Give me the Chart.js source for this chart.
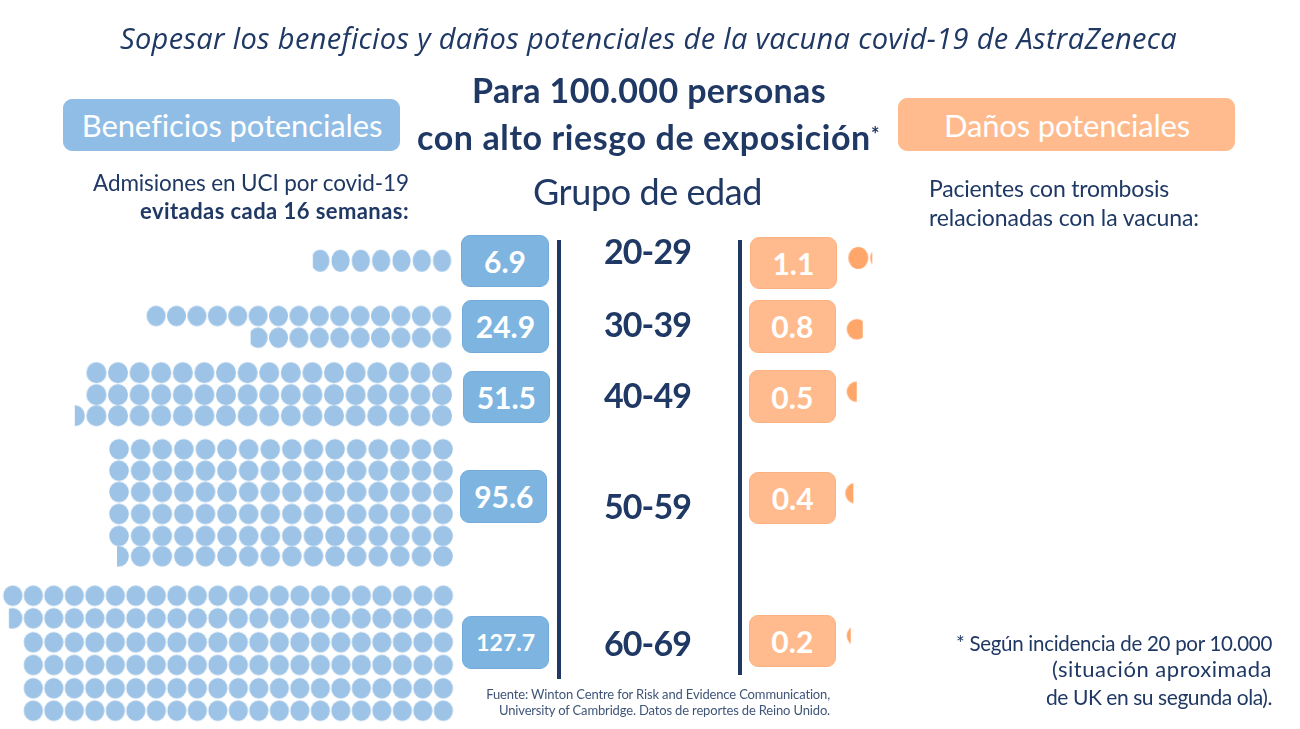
<!DOCTYPE html>
<html lang="es">
<head>
<meta charset="utf-8">
<title>Sopesar los beneficios y daños potenciales</title>
<script src="https://cdn.jsdelivr.net/npm/chart.js@4"></script>
<style>
    html, body { margin: 0; padding: 0; background: #ffffff; overflow: hidden; }
    #stage { position: relative; width: 1300px; height: 729px; }
    #dots { position: absolute; left: 0; top: 0; }
    .label { position: absolute; white-space: nowrap; color: #1f3864; font-family: Lato, sans-serif; line-height: 1; }
    .box { position: absolute; box-sizing: border-box; border-radius: 9px; color: #ffffff; font-family: Lato, sans-serif;
           font-weight: 700; display: flex; align-items: center; justify-content: center; }
    .rule { position: absolute; width: 4px; background: #203864; }
</style>
</head>
<body>
<div id="stage"><canvas id="dots" width="1300" height="729"></canvas></div>
<script>
// Values
const ageGroups = ["20-29", "30-39", "40-49", "50-59", "60-69"];
const benefitValues = [6.9, 24.9, 51.5, 95.6, 127.7];
const harmValues = [1.1, 0.8, 0.5, 0.4, 0.2];

// How the benefit dots of each group are split in rows, top row first
const benefitRows = [
    [6.9],
    [15, 9.9],
    [17, 17, 17.5],
    [16, 16, 16, 16, 16, 15.6],
    [22, 21.7, 21, 21, 21, 21],
];

// Page layout of the dots, in page pixels
const benefitLayout = [
    { right: 442, pitch: 20.3, w: 18.4, h: 22, rowY: [260.7] },
    { right: 441.7, pitch: 20.4, w: 19, h: 20.4, rowY: [316, 337.7] },
    { right: 442, pitch: 21.6, w: 20, h: 21, rowY: [372.7, 394.7, 415.7] },
    { right: 443, pitch: 21.6, w: 19.7, h: 20.7, rowY: [449.3, 470.7, 492, 514, 536, 556.3] },
    { right: 443.3, pitch: 20.5, w: 19.3, h: 20.7, rowY: [595.7, 618.3, 642.3, 665, 688.3, 710.7] },
];
const harmLayout = [
    { left: 858.3, y: 258, w: 20, h: 22 },
    { left: 856.7, y: 329.3, w: 20, h: 20.7 },
    { left: 856.7, y: 391.7, w: 20, h: 20.7 },
    { left: 855.3, y: 493.3, w: 20, h: 20.7 },
    { left: 856.7, y: 635.7, w: 20, h: 20.7 },
];
const harmPitch = 22;

const benefitBoxes = [
    { x: 461, y: 234.5, w: 88, h: 52.5, size: 30 },
    { x: 461.7, y: 300.3, w: 87.6, h: 52.4, size: 30 },
    { x: 462.7, y: 371, w: 87.3, h: 52, size: 30 },
    { x: 460.3, y: 470.3, w: 87, h: 52.4, size: 30 },
    { x: 462, y: 616.3, w: 87.3, h: 52.4, size: 23 },
];
const harmBoxes = [
    { x: 750, y: 236.7, w: 86.7, h: 52 },
    { x: 748.7, y: 300.3, w: 87.3, h: 52.4 },
    { x: 748.7, y: 370.3, w: 87.3, h: 52.7 },
    { x: 749.3, y: 472.3, w: 86.7, h: 51.4 },
    { x: 748.7, y: 615.3, w: 87.3, h: 52 },
];
const ageLabelY = [251, 323.5, 395, 505.5, 642.5];

const stage = document.getElementById("stage");

// Cut a dot image: share is the part of the dot that stays, from the given side
function dotImage(w, h, share, keep, color) {
    const canvas = document.createElement("canvas");
    canvas.width = Math.ceil(w) + 2;
    canvas.height = Math.ceil(h) + 2;
    const ctx = canvas.getContext("2d");
    const cx = canvas.width / 2;
    const cy = canvas.height / 2;
    ctx.beginPath();
    if (keep === "right") {
        ctx.rect(cx + w / 2 - w * share, 0, w * share + 2, canvas.height);
    } else {
        ctx.rect(0, 0, cx - w / 2 + w * share, canvas.height);
    }
    ctx.clip();
    ctx.fillStyle = color;
    ctx.beginPath();
    ctx.ellipse(cx, cy, w / 2, h / 2, 0, 0, Math.PI * 2);
    ctx.fill();
    return canvas;
}

// Points of the benefit side, filled from the right edge of each row
const benefitPoints = [];
const benefitStyles = [];
benefitRows.forEach((rows, g) => {
    const layout = benefitLayout[g];
    rows.forEach((count, r) => {
        for (let i = 0; i < Math.ceil(count); i++) {
            const share = Math.min(1, count - i);
            benefitPoints.push({ x: layout.right - i * layout.pitch, y: layout.rowY[r] });
            benefitStyles.push(dotImage(layout.w, layout.h, share, "right", "#9dc3e6"));
        }
    });
});

// Points of the harm side, filled from the left
const harmPoints = [];
const harmStyles = [];
harmValues.forEach((value, g) => {
    const layout = harmLayout[g];
    for (let i = 0; i < Math.ceil(value); i++) {
        const share = Math.min(1, value - i);
        harmPoints.push({ x: layout.left + i * harmPitch, y: layout.y });
        harmStyles.push(dotImage(layout.w, layout.h, share, "left", "#ffa76a"));
    }
});

new Chart(document.getElementById("dots"), {
    type: "scatter",
    data: {
        datasets: [
            { label: "Admisiones en UCI evitadas", data: benefitPoints, pointStyle: benefitStyles, clip: false },
            { label: "Trombosis relacionadas con la vacuna", data: harmPoints, pointStyle: harmStyles, clip: false },
        ],
    },
    options: {
        responsive: false,
        animation: false,
        layout: { padding: 0, autoPadding: false },
        plugins: { legend: { display: false }, tooltip: { enabled: false } },
        scales: {
            x: { type: "linear", min: 0, max: 1300, display: false },
            y: { type: "linear", min: 0, max: 729, reverse: true, display: false },
        },
    },
});

// Add a text, centered on y. width stretches the letter spacing to the measured width
function addLabel(html, opts) {
    const el = document.createElement("div");
    el.className = "label";
    el.innerHTML = html;
    el.style.fontSize = opts.size + "px";
    el.style.fontWeight = opts.bold ? 700 : 400;
    if (opts.font) el.style.fontFamily = opts.font;
    if (opts.italic) el.style.fontStyle = "italic";
    if (opts.color) el.style.color = opts.color;
    let shiftX = "0";
    if (opts.right !== undefined) el.style.right = (1300 - opts.right) + "px";
    else if (opts.center !== undefined) { el.style.left = opts.center + "px"; shiftX = "-50%"; }
    else el.style.left = opts.left + "px";
    el.style.top = opts.y + "px";
    el.style.transform = `translate(${shiftX}, -50%)`;
    stage.appendChild(el);
    if (opts.width) {
        const natural = el.getBoundingClientRect().width;
        el.style.letterSpacing = (opts.width - natural) / el.textContent.length + "px";
    }
}

function addBox(box, text, fill, border, size) {
    const el = document.createElement("div");
    el.className = "box";
    el.textContent = text;
    el.style.left = box.x + "px";
    el.style.top = box.y + "px";
    el.style.width = box.w + "px";
    el.style.height = box.h + "px";
    el.style.background = fill;
    el.style.border = `1px solid ${border}`;
    el.style.fontSize = size + "px";
    stage.appendChild(el);
}

function addRule(x, top, bottom) {
    const el = document.createElement("div");
    el.className = "rule";
    el.style.left = x + "px";
    el.style.top = top + "px";
    el.style.height = (bottom - top) + "px";
    stage.appendChild(el);
}

addBox({ x: 63, y: 99, w: 337, h: 52 }, "", "#8fbde5", "#8fbde5", 28);
addBox({ x: 898, y: 98, w: 337, h: 53 }, "", "#ffbb8d", "#ffbb8d", 28);

addLabel("Sopesar los beneficios y daños potenciales de la vacuna covid-19 de AstraZeneca",
    { center: 648.5, y: 37, size: 29, italic: true, font: "'Open Sans', sans-serif", width: 1057 });
addLabel("Para 100.000 personas", { center: 649, y: 90, size: 34, bold: true, width: 354 });
addLabel('con alto riesgo de exposición<span style="font-size:20px;vertical-align:8px">*</span>',
    { center: 648.5, y: 137, size: 34, bold: true, width: 463 });
addLabel("Beneficios potenciales", { center: 232, y: 125, size: 31, color: "#ffffff", width: 300 });
addLabel("Daños potenciales", { center: 1067, y: 125, size: 31, color: "#ffffff", width: 246 });
addLabel("Grupo de edad", { center: 647.5, y: 191, size: 36, width: 229 });
addLabel("Admisiones en UCI por covid-19", { right: 409, y: 182.5, size: 22.5, width: 316 });
addLabel("evitadas cada 16 semanas:", { right: 409, y: 210.5, size: 22, bold: true, width: 269 });
addLabel("Pacientes con trombosis", { left: 929, y: 187.5, size: 23, width: 240 });
addLabel("relacionadas con la vacuna:", { left: 929, y: 216.5, size: 23, width: 270 });
addLabel("* Según incidencia de 20 por 10.000", { right: 1272, y: 643, size: 20.5, width: 316 });
addLabel("(situación aproximada", { right: 1272, y: 669, size: 22, width: 220 });
addLabel("de UK en su segunda ola).", { right: 1272, y: 696, size: 21, width: 226 });
addLabel("Fuente: Winton Centre for Risk and Evidence Communication,",
    { right: 830, y: 694, size: 13, color: "#3f5578", width: 344 });
addLabel("University of Cambridge. Datos de reportes de Reino Unido.",
    { right: 830, y: 710, size: 13, color: "#3f5578", width: 331 });

ageGroups.forEach((age, g) => {
    addLabel(age, { center: 647.5, y: ageLabelY[g], size: 34, bold: true, width: 87 });
    addBox(benefitBoxes[g], benefitValues[g].toFixed(1), "#7eb5e0", "#72abdb", benefitBoxes[g].size);
    addBox(harmBoxes[g], harmValues[g].toFixed(1), "#ffbb8d", "#fab283", 30);
});

addRule(556.7, 240, 678.5);
addRule(738.3, 240, 675);
</script>
</body>
</html>
